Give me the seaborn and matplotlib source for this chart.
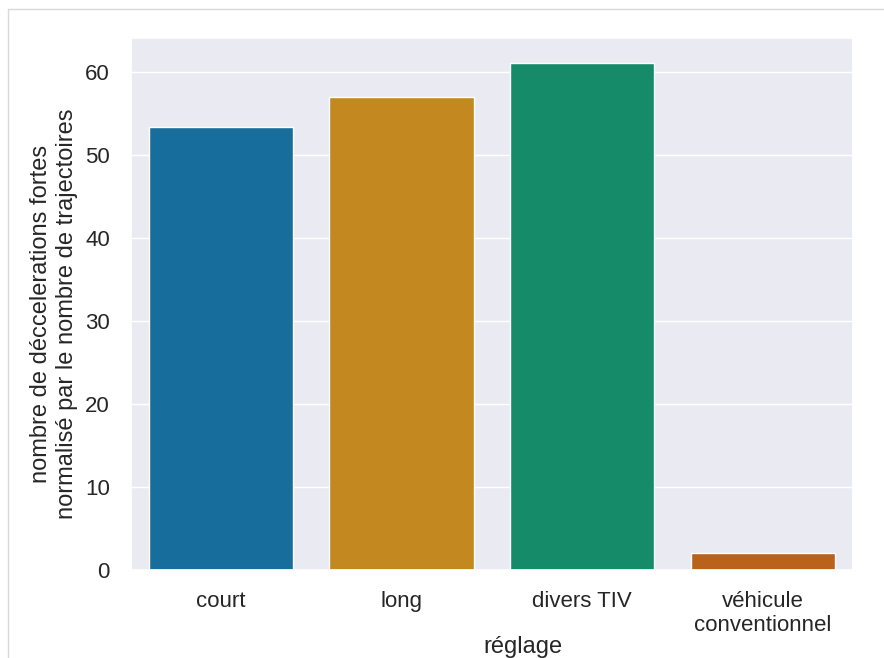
import matplotlib
matplotlib.use("Agg")
import matplotlib.pyplot as plt
import seaborn as sns
import pandas as pd
from matplotlib.lines import Line2D

categories = ["court", "long", "divers TIV", "véhicule\nconventionnel"]
values = [53.3, 57.0, 61.0, 2.0]

sns.set_theme(style="darkgrid")
plt.rcParams['font.family'] = ['Liberation Sans', 'DejaVu Sans']

df = pd.DataFrame({"réglage": categories, "val": values})

fig = plt.figure(figsize=(8.84, 6.58), dpi=100)
ax = fig.add_axes([0.148, 0.134, 0.817, 0.808])
sns.barplot(data=df, x="réglage", y="val", hue="réglage",
            palette="colorblind", ax=ax, legend=False)
ax.set_xlabel("réglage", fontsize=17)
ax.set_ylabel("nombre de déccelerations fortes\nnormalisé par le nombre de trajectoires",
              fontsize=17)
ax.xaxis.set_label_coords(0.543, -0.156)
ax.xaxis.label.set_va('baseline')
ax.yaxis.set_label_coords(-0.0734, 0.481)
ax.tick_params(axis='x', labelsize=16, pad=9)
ax.tick_params(axis='y', labelsize=16, pad=9)

# light frame at the top and left of the figure
fig.lines.append(Line2D([8/884, 1.0], [1 - 9/658, 1 - 9/658], transform=fig.transFigure,
                        color="#d9d9d9", linewidth=1))
fig.lines.append(Line2D([8/884, 8/884], [0.0, 1 - 9/658], transform=fig.transFigure,
                        color="#d9d9d9", linewidth=1))
fig.savefig("out.png", dpi=100)
